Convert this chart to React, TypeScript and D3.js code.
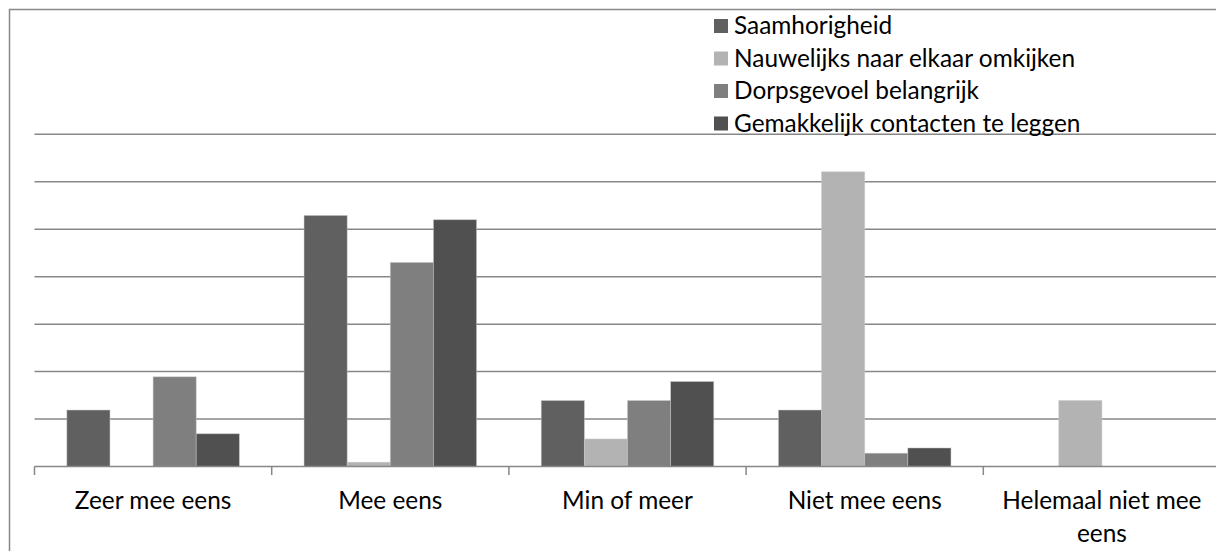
import React from "react";
import * as d3 from "d3";

const categories = ["Zeer mee eens", "Mee eens", "Min of meer", "Niet mee eens", "Helemaal niet mee eens"];
const seriesNames = ["Saamhorigheid", "Nauwelijks naar elkaar omkijken", "Dorpsgevoel belangrijk", "Gemakkelijk contacten te leggen"];
const saamhorigheid = [11.9, 52.9, 13.9, 11.9, 0];
const nauwelijks = [0, 0.9, 5.8, 62.1, 13.9];
const dorpsgevoel = [18.9, 43.0, 13.9, 2.8, 0];
const gemakkelijk = [6.9, 52.0, 17.9, 3.9, 0];
const seriesColors = ["#606060", "#b3b3b3", "#7f7f7f", "#505050"];
const gridTicks = [10, 20, 30, 40, 50, 60, 70];

const W = 1216;
const H = 551;
const FONT = "Lato, 'Open Sans', sans-serif";
const FS = 24.4;

function wrapText(text: string, maxWidth: number): string[] {
  const canvas = document.createElement("canvas");
  const ctx = canvas.getContext("2d");
  if (!ctx) return [text];
  ctx.font = `${FS}px Lato`;
  const words = text.split(" ");
  const lines: string[] = [];
  let cur = "";
  for (const w of words) {
    const test = cur ? cur + " " + w : w;
    if (ctx.measureText(test).width > maxWidth && cur) {
      lines.push(cur);
      cur = w;
    } else {
      cur = test;
    }
  }
  if (cur) lines.push(cur);
  return lines;
}

export default function App() {
  const series = [saamhorigheid, nauwelijks, dorpsgevoel, gemakkelijk];
  const x0 = d3.scaleBand<string>().domain(categories).range([34.5, 1220.5]).paddingInner(0).paddingOuter(0);
  const x1 = d3
    .scaleBand<number>()
    .domain(d3.range(series.length))
    .range([0, x0.bandwidth()])
    .paddingInner(0)
    .paddingOuter(0.75);
  const y = d3.scaleLinear().domain([0, 70]).range([466.5, 134.3]);
  const baseline = y(0);

  const boundaries = categories.map((c) => x0(c) as number);

  return (
    <svg
      width={W}
      height={H}
      style={{ position: "absolute", left: 0, top: 0, background: "#fff" }}
      fontFamily={FONT}
    >
      <rect x={9.5} y={9.5} width={W + 20} height={H + 20} fill="#fff" stroke="#888" strokeWidth={1.5} />
      {gridTicks.map((t) => (
        <line key={t} x1={34.5} x2={1220.5} y1={y(t)} y2={y(t)} stroke="#878787" strokeWidth={1.5} />
      ))}
      {categories.map((c, ci) =>
        series.map((s, si) => {
          const v = s[ci];
          if (!v) return null;
          const bx = (x0(c) as number) + (x1(si) as number);
          return (
            <rect
              key={c + si}
              x={bx}
              y={y(v)}
              width={x1.bandwidth()}
              height={baseline - y(v)}
              fill={seriesColors[si]}
              stroke="#c8c8c8"
              strokeOpacity={0.6}
              strokeWidth={0.8}
            />
          );
        })
      )}
      <line x1={34.5} x2={1220.5} y1={baseline} y2={baseline} stroke="#878787" strokeWidth={1.5} />
      {boundaries.map((bx, i) => (
        <line key={i} x1={bx} x2={bx} y1={baseline} y2={baseline + 8.5} stroke="#878787" strokeWidth={1.5} />
      ))}
      {categories.map((c) => {
        const cx = (x0(c) as number) + x0.bandwidth() / 2;
        const lines = wrapText(c, x0.bandwidth() - 12);
        return (
          <text key={c} x={cx} y={509.3} textAnchor="middle" fontSize={FS} fill="#000">
            {lines.map((l, li) => (
              <tspan key={li} x={cx} dy={li === 0 ? 0 : 32.4}>
                {l}
              </tspan>
            ))}
          </text>
        );
      })}
      {seriesNames.map((n, i) => {
        const by = 34 + i * 32.5;
        return (
          <g key={n}>
            <rect x={714} y={by - 15} width={14} height={14} fill={seriesColors[i]} />
            <text x={734} y={by} fontSize={FS} fill="#000">
              {n}
            </text>
          </g>
        );
      })}
    </svg>
  );
}
